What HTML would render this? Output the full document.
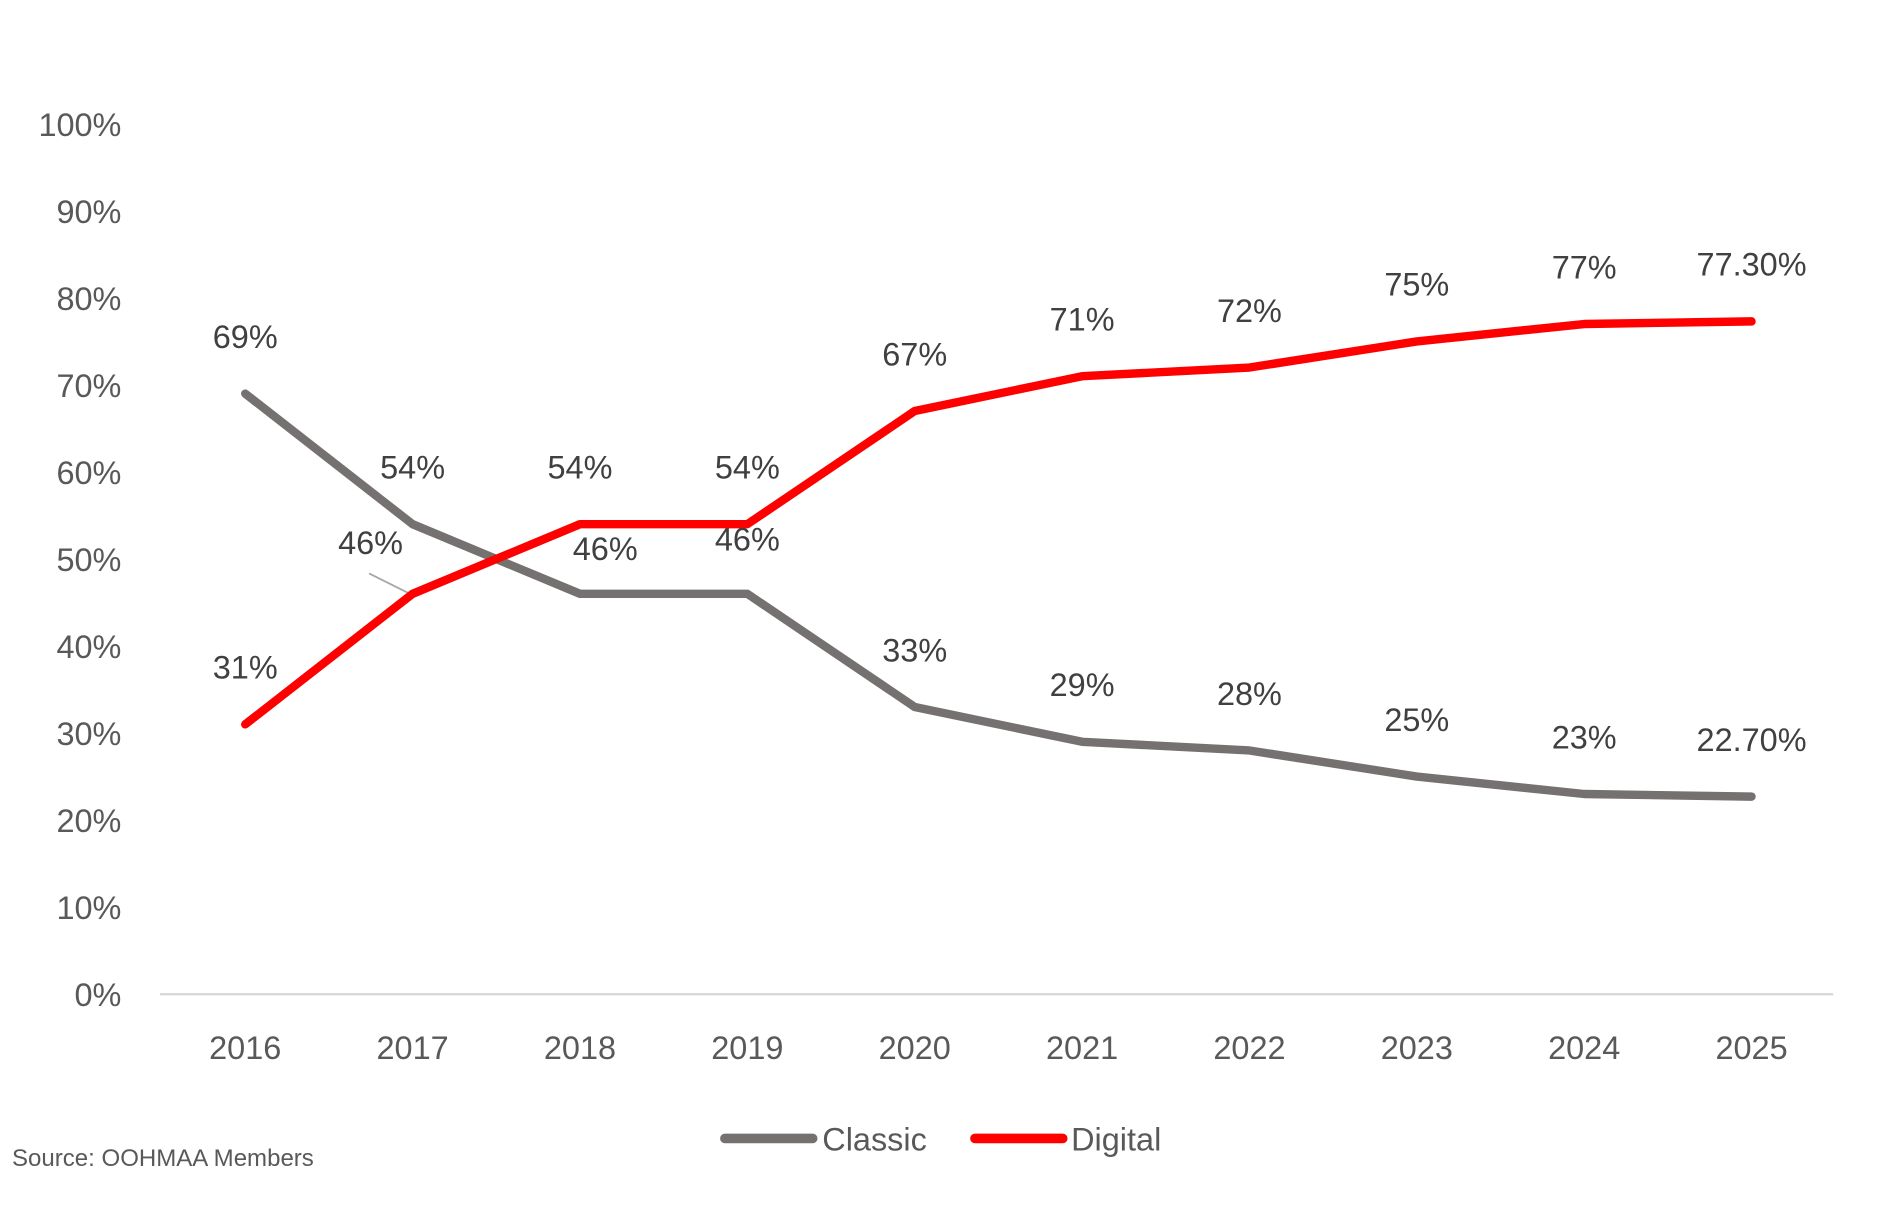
<!DOCTYPE html>
<html><head><meta charset="utf-8"><style>
html,body{margin:0;padding:0;background:#fff;}
svg{display:block;}
text{font-family:"Liberation Sans",sans-serif;}
</style></head><body>
<svg id="chart" width="1885" height="1206" viewBox="0 0 1568 1003.2" preserveAspectRatio="none" xmlns="http://www.w3.org/2000/svg">
<g id="yticks"></g>
<line x1="133" y1="827" x2="1525" y2="827" stroke="#d9d9d9" stroke-width="2"/>
<g id="xticks"></g>
<line x1="307" y1="477" x2="341" y2="494" stroke="#a6a6a6" stroke-width="1.5"/>
<g id="series"></g>
<g id="labels"></g>
<g>
<g>
<line x1="603" y1="947" x2="676" y2="947" stroke="#767171" stroke-width="8" stroke-linecap="round"/>
<text x="684" y="957" font-size="27" fill="#595959">Classic</text></g>
<g>
<line x1="811" y1="947" x2="884" y2="947" stroke="#ff0000" stroke-width="8" stroke-linecap="round"/>
<text x="891" y="957" font-size="27" fill="#595959">Digital</text></g>
</g>
<text x="10" y="970" font-size="20" fill="#595959">Source: OOHMAA Members</text>
</svg>
<script>
const categories = ["2016","2017","2018","2019","2020","2021","2022","2023","2024","2025"];
const classicValues = [69,54,46,46,33,29,28,25,23,22.7];
const digitalValues = [31,46,54,54,67,71,72,75,77,77.3];
const classicLabels = ["69%","54%","46%","46%","33%","29%","28%","25%","23%","22.70%"];
const digitalLabels = ["31%","46%","54%","54%","67%","71%","72%","75%","77%","77.30%"];
const yTickValues = [0,10,20,30,40,50,60,70,80,90,100];
const yTickLabels = ["0%","10%","20%","30%","40%","50%","60%","70%","80%","90%","100%"];

const NS="http://www.w3.org/2000/svg";
const x0=204, xStep=(1457-204)/9, yBase=827, yTop=103;
function xs(i){return x0+i*xStep;}
function ys(v){return yBase-(v/100)*(yBase-yTop);}
function mk(tag,attrs,parent,txt){const e=document.createElementNS(NS,tag);for(const k in attrs)e.setAttribute(k,attrs[k]);if(txt!==undefined)e.textContent=txt;parent.appendChild(e);return e;}

const yg=document.getElementById('yticks');
yTickValues.forEach((v,i)=>{
  const t=mk('text',{x:101,y:ys(v)+10,'text-anchor':'end','font-size':27,fill:'#595959'},yg,yTickLabels[i]);
  
  
});
const xg=document.getElementById('xticks');
categories.forEach((c,i)=>{
  const t=mk('text',{x:xs(i),y:881,'text-anchor':'middle','font-size':27,fill:'#595959'},xg,c);
  
  
});

const sg=document.getElementById('series');
function drawLine(vals,color,name){
  const d=vals.map((v,i)=>(i?'L':'M')+xs(i)+','+ys(v)).join(' ');
  const p=mk('path',{d:d,fill:'none',stroke:color,'stroke-width':7,'stroke-linejoin':'round','stroke-linecap':'round'},sg);
  
  
}
drawLine(classicValues,'#767171','classic-line');
drawLine(digitalValues,'#ff0000','digital-line');

const lg=document.getElementById('labels');
const classicOff=[[0,-38],[0,-38],[21,-28],[0,-36],[0,-38],[0,-38],[0,-38],[0,-38],[0,-38],[0,-38]];
const digitalOff=[[0,-38],[-35,-33],[0,-38],[0,-38],[0,-38],[0,-38],[0,-38],[0,-38],[0,-38],[0,-38]];
function drawLabels(vals,labs,off,name){
  vals.forEach((v,i)=>{
    const t=mk('text',{x:xs(i)+off[i][0],y:ys(v)+off[i][1],'text-anchor':'middle','font-size':27,fill:'#404040'},lg,labs[i]);
    
    
  });
}
drawLabels(classicValues,classicLabels,classicOff,'classic-data-label');
drawLabels(digitalValues,digitalLabels,digitalOff,'digital-data-label');
</script>
</body></html>
